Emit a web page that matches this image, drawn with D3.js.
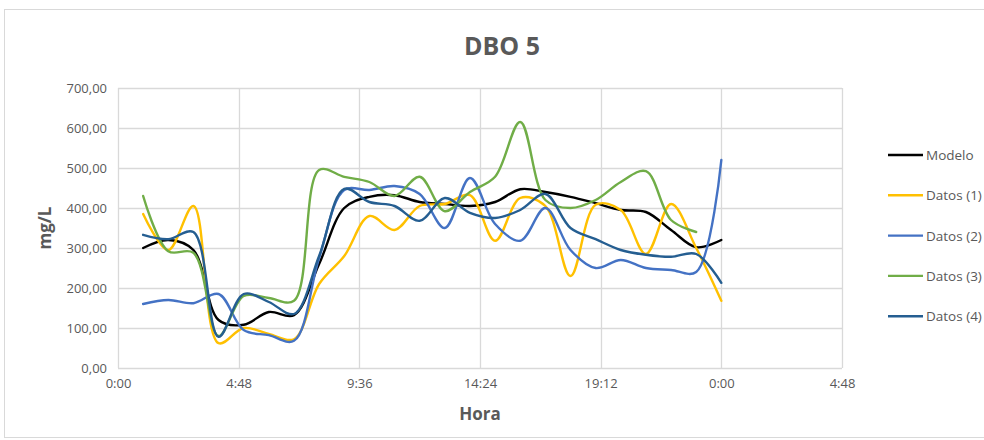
<!DOCTYPE html>
<html>
<head>
<meta charset="utf-8">
<script src="https://cdn.jsdelivr.net/npm/d3@7"></script>
<style>
  body { margin: 0; background: #fff; }
  text { font-family: "Open Sans", "Liberation Sans", sans-serif; fill: #595959; }
</style>
</head>
<body>
<svg id="chart"></svg>
<script>
const width = 984, height = 440;

// hourly samples, 1:00 .. 24:00
const hours = [1,2,3,4,5,6,7,8,9,10,11,12,13,14,15,16,17,18,19,20,21,22,23,24];
const modelo = [300,320,295,120,108,140,132,260,400,428,432,415,410,405,415,447,440,428,412,395,390,345,302,320];
const datos1 = [385,295,405,62,100,85,72,210,280,380,345,405,410,432,318,425,405,230,408,395,285,410,300,168];
const datos2 = [160,170,162,185,95,82,68,275,445,445,455,435,350,475,360,318,400,295,250,270,250,245,240,520];
const datos3 = [430,292,288,80,180,175,168,495,478,465,430,478,392,440,478,615,420,400,420,465,492,370,340,null];
const datos4 = [333,322,340,78,185,165,135,280,448,415,405,368,425,388,375,395,435,350,322,295,283,278,285,213];

const seriesNames = ["Modelo", "Datos (1)", "Datos (2)", "Datos (3)", "Datos (4)"];
const seriesColors = ["#000000", "#FFC000", "#4472C4", "#70AD47", "#255E91"];
const seriesValues = [modelo, datos1, datos2, datos3, datos4];

const xTickValues = [0, 4.8, 9.6, 14.4, 19.2, 24, 28.8];
const xTickLabels = ["0:00", "4:48", "9:36", "14:24", "19:12", "0:00", "4:48"];
const yTickValues = [0, 100, 200, 300, 400, 500, 600, 700];

const margin = {left: 118, right: 142, top: 88, bottom: 72};

const svg = d3.select("#chart")
    .attr("width", width)
    .attr("height", height);

// chart frame
svg.append("rect")
    .attr("x", 4.5).attr("y", 9.5)
    .attr("width", 990).attr("height", 428)
    .attr("fill", "#fff")
    .attr("stroke", "#d9d9d9");

const x = d3.scaleLinear().domain([0, 28.8]).range([margin.left, width - margin.right]);
const y = d3.scaleLinear().domain([0, 700]).range([height - margin.bottom, margin.top]);

// gridlines
svg.append("g")
    .selectAll("line")
    .data(yTickValues)
    .join("line")
    .attr("x1", x(0)).attr("x2", x(28.8))
    .attr("y1", d => Math.round(y(d)) + 0.5).attr("y2", d => Math.round(y(d)) + 0.5)
    .attr("stroke", "#d9d9d9").attr("stroke-width", 1.3);

svg.append("g")
    .selectAll("line")
    .data(xTickValues)
    .join("line")
    .attr("x1", d => Math.round(x(d)) + 0.5).attr("x2", d => Math.round(x(d)) + 0.5)
    .attr("y1", y(0)).attr("y2", y(700))
    .attr("stroke", "#d9d9d9").attr("stroke-width", 1.3);

// axes
const fmtY = d => d3.format(".2f")(d).replace(".", ",");
svg.append("g")
    .attr("transform", `translate(${x(0) - 8},0)`)
    .call(d3.axisLeft(y).tickValues(yTickValues).tickFormat(fmtY).tickSize(0))
    .call(g => g.select(".domain").remove())
    .call(g => g.selectAll("text").style("font-size", "13px").attr("fill", "#595959"));

svg.append("g")
    .attr("transform", `translate(0,${y(0) + 8})`)
    .call(d3.axisBottom(x).tickValues(xTickValues).tickFormat((d, i) => xTickLabels[i]).tickSize(0))
    .call(g => g.select(".domain").remove())
    .call(g => g.selectAll("text").style("font-size", "13px").attr("fill", "#595959"));

// lines
const line = d3.line()
    .defined(d => d[1] != null)
    .x(d => x(d[0]))
    .y(d => y(d[1]))
    .curve(d3.curveCatmullRom.alpha(0.5));

seriesValues.forEach((vals, i) => {
    svg.append("path")
        .datum(hours.map((h, j) => [h, vals[j]]))
        .attr("fill", "none")
        .attr("stroke", seriesColors[i])
        .attr("stroke-width", 2.4)
        .attr("stroke-linejoin", "round")
        .attr("stroke-linecap", "round")
        .attr("d", line);
});

// titles
svg.append("text")
    .attr("x", 502).attr("y", 55)
    .attr("text-anchor", "middle")
    .style("font-size", "25px").style("font-weight", "bold")
    .text("DBO 5");

svg.append("text")
    .attr("x", (x(0) + x(28.8)) / 2).attr("y", 420)
    .attr("text-anchor", "middle")
    .style("font-size", "17px").style("font-weight", "bold")
    .text("Hora");

svg.append("text")
    .attr("transform", `translate(51,${(y(0) + y(700)) / 2}) rotate(-90)`)
    .attr("text-anchor", "middle")
    .style("font-size", "17px").style("font-weight", "bold")
    .text("mg/L");

// legend
const legend = svg.append("g");
seriesNames.forEach((name, i) => {
    const ly = 155 + i * 40.3;
    legend.append("line")
        .attr("x1", 888).attr("x2", 923)
        .attr("y1", ly).attr("y2", ly)
        .attr("stroke", seriesColors[i]).attr("stroke-width", 2.4);
    legend.append("text")
        .attr("x", 926).attr("y", ly + 5)
        .style("font-size", "13.5px")
        .text(name);
});
</script>
</body>
</html>
